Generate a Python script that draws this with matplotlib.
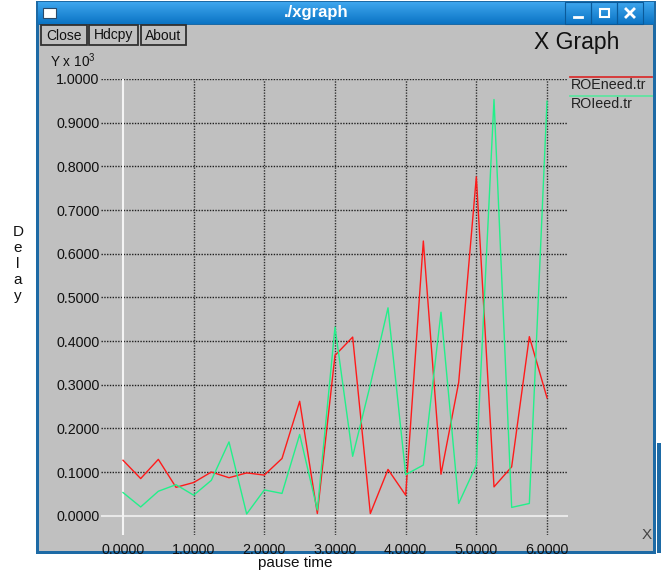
import numpy as np
import matplotlib
matplotlib.use("Agg")
import matplotlib.pyplot as plt
from matplotlib.patches import Rectangle

plt.rcParams['font.family'] = ['Liberation Sans', 'DejaVu Sans']
plt.rcParams['mathtext.fontset'] = 'custom'
plt.rcParams['mathtext.rm'] = 'Liberation Sans'
plt.rcParams['mathtext.it'] = 'Liberation Sans'

# data (delay in units of 10^3)
pause_time = [0.0, 0.25, 0.5, 0.75, 1.0, 1.25, 1.5, 1.75, 2.0, 2.25, 2.5, 2.75,
              3.0, 3.25, 3.5, 3.75, 4.0, 4.25, 4.5, 4.75, 5.0, 5.25, 5.5, 5.75, 6.0]
roeneed = [0.127, 0.085, 0.129, 0.065, 0.076, 0.100, 0.087, 0.098, 0.093, 0.131,
           0.262, 0.005, 0.367, 0.409, 0.005, 0.106, 0.047, 0.629, 0.095, 0.305,
           0.776, 0.066, 0.112, 0.410, 0.270]
roieed = [0.053, 0.020, 0.056, 0.071, 0.047, 0.081, 0.169, 0.004, 0.059, 0.051,
          0.186, 0.013, 0.432, 0.136, 0.300, 0.476, 0.094, 0.116, 0.466, 0.028,
          0.116, 0.953, 0.019, 0.028, 0.949]
series_names = ["ROEneed.tr", "ROIeed.tr"]
series_colors = ["#ff1a1a", "#22f08a"]
legend_colors = ["#d83030", "#5ee4a0"]
x_ticks = [0, 1, 2, 3, 4, 5, 6]
y_ticks = [0.0, 0.1, 0.2, 0.3, 0.4, 0.5, 0.6, 0.7, 0.8, 0.9, 1.0]

W, H = 662, 575
fig = plt.figure(figsize=(W / 100, H / 100), dpi=100)
fig.patch.set_facecolor("white")

# window chrome drawn in pixel coordinates
bg = fig.add_axes([0, 0, 1, 1])
bg.set_xlim(0, W)
bg.set_ylim(H, 0)
bg.axis("off")

gray = "#c0c0c0"
blue = "#1d6aa5"
# window frame
bg.add_patch(Rectangle((36, 1), 620, 553, facecolor=blue, edgecolor="none"))
bg.add_patch(Rectangle((39, 25), 614, 526, facecolor=gray, edgecolor="none"))
# other window strip at far right
bg.add_patch(Rectangle((657, 443), 4, 110, facecolor=blue, edgecolor="none"))

# title bar gradient
grad = np.linspace(0, 1, 50).reshape(-1, 1)
cmap = matplotlib.colors.LinearSegmentedColormap.from_list("tb", ["#3ea6ee", "#0b74c4"])
bg.imshow(grad, cmap=cmap, extent=(38, 654, 24, 2), aspect="auto", zorder=1)
bg.text(316, 13, "./xgraph", color="white", fontsize=12, fontweight="bold",
        ha="center", va="center", zorder=3)
# window icon
bg.add_patch(Rectangle((43, 8), 13, 10, facecolor="white", edgecolor="#2a4a6a",
                       lw=0.8, zorder=3))
# title bar buttons
for bx in [565, 591, 617]:
    bg.add_patch(Rectangle((bx, 2), 26, 22, facecolor="none", edgecolor="#0a5a9a",
                           lw=0.8, zorder=3))
bg.plot([574, 582], [17, 17], color="white", lw=2, zorder=4)
bg.add_patch(Rectangle((600, 9), 9, 8, facecolor="none", edgecolor="white", lw=1.5, zorder=4))
bg.plot([626, 634], [9, 17], color="white", lw=2, zorder=4)
bg.plot([626, 634], [17, 9], color="white", lw=2, zorder=4)

# xgraph buttons
for label, x0, x1 in [("Close", 41, 87), ("Hdcpy", 89, 138), ("About", 141, 186)]:
    bg.add_patch(Rectangle((x0, 25), x1 - x0, 20, facecolor=gray, edgecolor="#303030",
                           lw=1.3, zorder=3))
    bg.text((x0 + x1) / 2, 35.5, label, fontsize=10, ha="center", va="center",
            color="#111111", zorder=4)

bg.text(577, 42, "X Graph", fontsize=16.5, ha="center", va="center", color="#111111")
bg.text(50, 61, r"Y x 10$^{3}$", fontsize=9.8, ha="left", va="center", color="#111111")

# legend
for i, (name, col) in enumerate(zip(series_names, legend_colors)):
    yy = 77 + i * 19
    bg.plot([570, 652], [yy, yy], color=col, lw=1.3)
    bg.text(571, yy + 8, name, fontsize=10.3, ha="left", va="center", color="#222222")

# axis labels outside window
for k, ch in enumerate("Delay"):
    bg.text(18, 232 + k * 16, ch, fontsize=11, ha="center", va="center", color="#111111")
bg.text(295, 563, "pause time", fontsize=11, ha="center", va="center", color="#111111")
bg.text(647, 535, "X", fontsize=11, ha="center", va="center", color="#444444",
        fontweight="light")

# plot area: x 0..6 -> px 123..547, y 0..1 -> px 515.7..79
px_per_x = (547 - 123) / 6.0
px_per_y = (515.7 - 79) / 1.0
left_px, right_px, top_px, bot_px = 101, 568, 79, 535
xmin = (left_px - 123) / px_per_x
xmax = 6 + (right_px - 547) / px_per_x
ymin = -(bot_px - 515.7) / px_per_y
ymax = 1.0

ax = fig.add_axes([left_px / W, 1 - bot_px / H, (right_px - left_px) / W,
                   (bot_px - top_px) / H])
ax.set_facecolor("none")
ax.set_xlim(xmin, xmax)
ax.set_ylim(ymin, ymax)
for s in ax.spines.values():
    s.set_visible(False)

for yv in y_ticks:
    if yv == 0:
        ax.axhline(yv, color="#e8e8e8", lw=1.5, zorder=1)
    else:
        ax.axhline(yv, color="#202020", lw=1.0, ls=(0, (1, 1)), zorder=1)
for xv in x_ticks:
    if xv == 0:
        ax.axvline(xv, color="#f4f4f4", lw=1.5, zorder=1)
    else:
        ax.axvline(xv, color="#303030", lw=1.0, ls=(0, (1, 1)), zorder=1)

ax.plot(pause_time, roeneed, color=series_colors[0], lw=1.0, zorder=3)
ax.plot(pause_time, roieed, color=series_colors[1], lw=1.0, zorder=3)

ax.set_xticks(x_ticks)
ax.set_xticklabels(["%.4f" % v for v in x_ticks])
ax.set_yticks(y_ticks)
ax.set_yticklabels(["%.4f" % v for v in y_ticks])
ax.tick_params(axis="both", length=0, labelsize=10.3, colors="#111111")
ax.tick_params(axis="y", pad=1)
ax.tick_params(axis="x", pad=6)

fig.savefig("out.png", dpi=100)
